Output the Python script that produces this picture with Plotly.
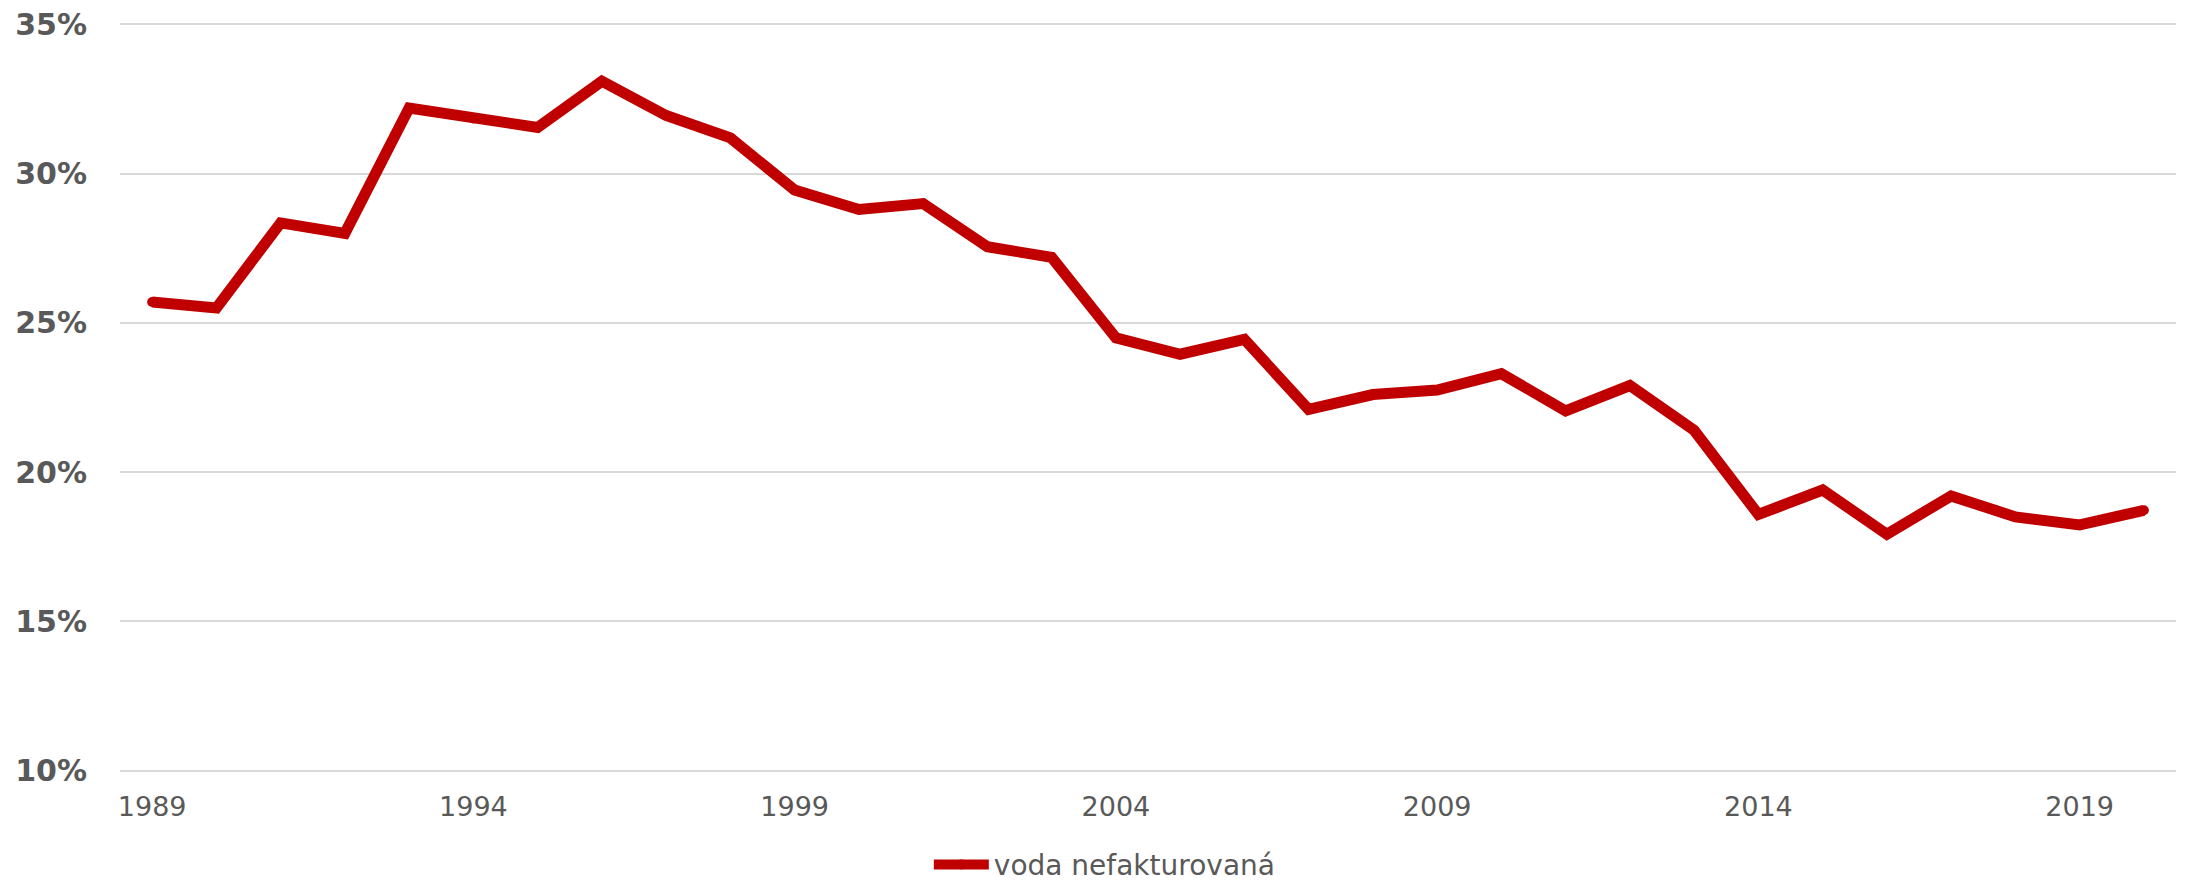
import plotly.graph_objects as go

years = list(range(1989, 2021))
unbilled_pct = [25.7, 25.5, 28.35, 28.0, 32.2, 31.85, 31.55, 33.1, 31.95, 31.2,
                29.45, 28.8, 29.0, 27.55, 27.2, 24.5, 23.95, 24.45, 22.1, 22.6,
                22.75, 23.3, 22.05, 22.9, 21.4, 18.58, 19.4, 17.92, 19.2, 18.5,
                18.23, 18.72]
series_name = "voda nefakturovaná"
x_ticks = [1989, 1994, 1999, 2004, 2009, 2014, 2019]
y_ticks = [10, 15, 20, 25, 30, 35]

fig = go.Figure()
fig.add_trace(go.Scatter(
    x=years, y=unbilled_pct, mode="lines+markers", name=series_name,
    line=dict(color="#C00000", width=11, shape="linear"),
    marker=dict(color="#C00000", size=10, line=dict(width=0)),
    showlegend=True,
))

fig.update_layout(
    width=2186, height=882,
    margin=dict(l=120, r=10, t=22.5, b=109.5, autoexpand=False),
    paper_bgcolor="white", plot_bgcolor="white",
    font=dict(family="DejaVu Sans", color="#595959"),
    showlegend=True,
    legend=dict(orientation="h", x=0.479, xanchor="center", y=-0.124, yanchor="middle",
                font=dict(size=28, color="#595959"), itemwidth=55,
                bgcolor="rgba(0,0,0,0)"),
    xaxis=dict(range=[1988.5, 2020.5], tickmode="array", tickvals=x_ticks,
               ticktext=[str(v) for v in x_ticks], showgrid=False, zeroline=False,
               showline=False, ticks="", tickfont=dict(size=27, color="#595959"),
               ticklabelstandoff=16, automargin=False),
    yaxis=dict(range=[9.95, 35.05], tickmode="array", tickvals=y_ticks,
               ticktext=[f"{v}%" for v in y_ticks], showgrid=True,
               gridcolor="#D9D9D9", gridwidth=2, zeroline=False, showline=False,
               ticks="", tickfont=dict(size=30, color="#595959",
                                       family="DejaVu Sans", weight="bold"),
               ticklabelstandoff=32, automargin=False),
)

fig.write_html(
    "out.html",
    config={"displayModeBar": False},
    post_script="document.body.style.margin='0';document.body.style.overflow='hidden';",
)
